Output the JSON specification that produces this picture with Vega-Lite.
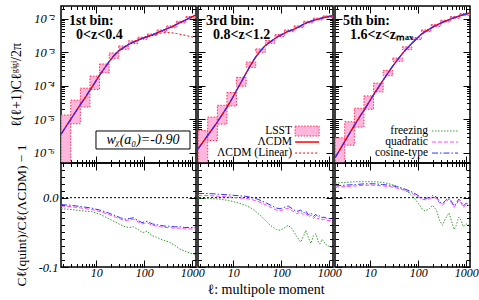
{
"$schema":"https://vega.github.io/schema/vega-lite/v6.json",
"background":"white",
"padding":{"left":8,"top":1,"right":0,"bottom":0},
"bounds":"flush",
"config":{
 "font":"Liberation Serif",
 "view":{"stroke":"black","strokeWidth":1.5},
 "axis":{"domain":false,"grid":false,"tickColor":"black","tickWidth":1,"labelFontSize":12.5,"labelFontStyle":"italic","labelColor":"black","titleFontSize":13,"titleFontWeight":"normal","titleColor":"black","labelFlush":false,"labelOverlap":false,"labelPadding":10,"titlePadding":10},
 "text":{"color":"black"}
},
"datasets":{
 "cl":[
  {"p":1,"l":1.86,"c":3.63e-6},{"p":1,"l":2.34,"c":6.03e-6},{"p":1,"l":2.95,"c":1.0e-5},{"p":1,"l":3.72,"c":1.66e-5},{"p":1,"l":4.68,"c":2.75e-5},{"p":1,"l":5.89,"c":4.47e-5},{"p":1,"l":7.41,"c":7.41e-5},{"p":1,"l":9.33,"c":1.23e-4},{"p":1,"l":11.7,"c":2.04e-4},{"p":1,"l":14.8,"c":3.31e-4},{"p":1,"l":18.6,"c":5.25e-4},{"p":1,"l":23.4,"c":7.94e-4},{"p":1,"l":29.5,"c":1.10e-3},{"p":1,"l":37.2,"c":1.38e-3},{"p":1,"l":46.8,"c":1.70e-3},{"p":1,"l":58.9,"c":2.00e-3},{"p":1,"l":74.1,"c":2.29e-3},{"p":1,"l":93.3,"c":2.63e-3},{"p":1,"l":117,"c":2.95e-3},{"p":1,"l":148,"c":3.31e-3},{"p":1,"l":186,"c":3.80e-3},{"p":1,"l":234,"c":4.37e-3},{"p":1,"l":295,"c":5.01e-3},{"p":1,"l":372,"c":5.75e-3},{"p":1,"l":468,"c":6.76e-3},{"p":1,"l":589,"c":7.94e-3},{"p":1,"l":741,"c":9.33e-3},{"p":1,"l":933,"c":1.10e-2},{"p":1,"l":1175,"c":1.29e-2},
  {"p":2,"l":1.86,"c":1.32e-6},{"p":2,"l":2.34,"c":2.09e-6},{"p":2,"l":2.95,"c":3.31e-6},{"p":2,"l":3.72,"c":5.25e-6},{"p":2,"l":4.68,"c":8.32e-6},{"p":2,"l":5.89,"c":1.38e-5},{"p":2,"l":7.41,"c":2.29e-5},{"p":2,"l":9.33,"c":3.98e-5},{"p":2,"l":11.7,"c":7.24e-5},{"p":2,"l":14.8,"c":1.32e-4},{"p":2,"l":18.6,"c":2.40e-4},{"p":2,"l":23.4,"c":4.27e-4},{"p":2,"l":29.5,"c":7.24e-4},{"p":2,"l":37.2,"c":1.12e-3},{"p":2,"l":46.8,"c":1.58e-3},{"p":2,"l":58.9,"c":2.04e-3},{"p":2,"l":74.1,"c":2.57e-3},{"p":2,"l":93.3,"c":3.16e-3},{"p":2,"l":117,"c":3.72e-3},{"p":2,"l":148,"c":4.37e-3},{"p":2,"l":186,"c":4.90e-3},{"p":2,"l":234,"c":5.75e-3},{"p":2,"l":295,"c":6.92e-3},{"p":2,"l":372,"c":7.94e-3},{"p":2,"l":468,"c":8.91e-3},{"p":2,"l":589,"c":9.77e-3},{"p":2,"l":741,"c":1.07e-2},{"p":2,"l":933,"c":1.15e-2},{"p":2,"l":1175,"c":1.23e-2},
  {"p":3,"l":1.86,"c":7.24e-7},{"p":3,"l":2.34,"c":1.26e-6},{"p":3,"l":2.95,"c":2.19e-6},{"p":3,"l":3.72,"c":3.80e-6},{"p":3,"l":4.68,"c":6.61e-6},{"p":3,"l":5.89,"c":1.12e-5},{"p":3,"l":7.41,"c":1.86e-5},{"p":3,"l":9.33,"c":3.16e-5},{"p":3,"l":11.7,"c":5.37e-5},{"p":3,"l":14.8,"c":8.91e-5},{"p":3,"l":18.6,"c":1.48e-4},{"p":3,"l":23.4,"c":2.40e-4},{"p":3,"l":29.5,"c":3.89e-4},{"p":3,"l":37.2,"c":6.03e-4},{"p":3,"l":46.8,"c":9.12e-4},{"p":3,"l":58.9,"c":1.32e-3},{"p":3,"l":74.1,"c":1.86e-3},{"p":3,"l":93.3,"c":2.57e-3},{"p":3,"l":117,"c":3.47e-3},{"p":3,"l":148,"c":4.37e-3},{"p":3,"l":186,"c":5.25e-3},{"p":3,"l":234,"c":6.31e-3},{"p":3,"l":295,"c":7.41e-3},{"p":3,"l":372,"c":8.51e-3},{"p":3,"l":468,"c":9.77e-3},{"p":3,"l":589,"c":1.10e-2},{"p":3,"l":741,"c":1.23e-2},{"p":3,"l":933,"c":1.35e-2},{"p":3,"l":1175,"c":1.48e-2}
 ],
 "lin":[
  {"l":58.9,"c":2.00e-3},{"l":74.1,"c":2.29e-3},{"l":93.3,"c":2.63e-3},{"l":117,"c":2.95e-3},{"l":148,"c":3.24e-3},{"l":186,"c":3.55e-3},{"l":234,"c":3.80e-3},{"l":295,"c":3.89e-3},{"l":372,"c":3.80e-3},{"l":468,"c":3.63e-3},{"l":589,"c":3.39e-3},{"l":741,"c":3.16e-3},{"l":933,"c":2.95e-3},{"l":1175,"c":2.69e-3}
 ],
 "box":[
  {"p":1,"l1":1.86,"l2":2.95,"lo":1e-7,"hi":1.35e-5},{"p":1,"l1":2.95,"l2":4.68,"lo":7.41e-6,"hi":3.72e-5},{"p":1,"l1":4.68,"l2":7.41,"lo":2.34e-5,"hi":8.51e-5},{"p":1,"l1":7.41,"l2":11.7,"lo":7.76e-5,"hi":1.95e-4},{"p":1,"l1":11.7,"l2":18.6,"lo":2.45e-4,"hi":4.47e-4},{"p":1,"l1":18.6,"l2":29.5,"lo":6.61e-4,"hi":9.55e-4},{"p":1,"l1":29.5,"l2":46.8,"lo":1.23e-3,"hi":1.55e-3},{"p":1,"l1":46.8,"l2":74.1,"lo":1.82e-3,"hi":2.19e-3},{"p":1,"l1":74.1,"l2":117,"lo":2.45e-3,"hi":2.82e-3},{"p":1,"l1":117,"l2":186,"lo":3.13e-3,"hi":3.51e-3},{"p":1,"l1":186,"l2":295,"lo":4.12e-3,"hi":4.62e-3},{"p":1,"l1":295,"l2":468,"lo":5.43e-3,"hi":6.10e-3},{"p":1,"l1":468,"l2":741,"lo":7.50e-3,"hi":8.41e-3},{"p":1,"l1":741,"l2":1175,"lo":1.04e-2,"hi":1.16e-2},
  {"p":2,"l1":1.86,"l2":2.95,"lo":1e-7,"hi":4.68e-6},{"p":2,"l1":2.95,"l2":4.68,"lo":2.34e-6,"hi":1.17e-5},{"p":2,"l1":4.68,"l2":7.41,"lo":7.24e-6,"hi":2.63e-5},{"p":2,"l1":7.41,"l2":11.7,"lo":2.51e-5,"hi":6.31e-5},{"p":2,"l1":11.7,"l2":18.6,"lo":9.77e-5,"hi":1.78e-4},{"p":2,"l1":18.6,"l2":29.5,"lo":3.55e-4,"hi":5.13e-4},{"p":2,"l1":29.5,"l2":46.8,"lo":1.00e-3,"hi":1.26e-3},{"p":2,"l1":46.8,"l2":74.1,"lo":1.86e-3,"hi":2.24e-3},{"p":2,"l1":74.1,"l2":117,"lo":2.95e-3,"hi":3.39e-3},{"p":2,"l1":117,"l2":186,"lo":4.12e-3,"hi":4.62e-3},{"p":2,"l1":186,"l2":295,"lo":5.43e-3,"hi":6.10e-3},{"p":2,"l1":295,"l2":468,"lo":7.50e-3,"hi":8.41e-3},{"p":2,"l1":468,"l2":741,"lo":9.23e-3,"hi":1.04e-2},{"p":2,"l1":741,"l2":1175,"lo":1.08e-2,"hi":1.22e-2},
  {"p":3,"l1":1.86,"l2":2.95,"lo":1e-7,"hi":2.82e-6},{"p":3,"l1":2.95,"l2":4.68,"lo":1.70e-6,"hi":8.51e-6},{"p":3,"l1":4.68,"l2":7.41,"lo":5.89e-6,"hi":2.14e-5},{"p":3,"l1":7.41,"l2":11.7,"lo":2.00e-5,"hi":5.01e-5},{"p":3,"l1":11.7,"l2":18.6,"lo":6.61e-5,"hi":1.20e-4},{"p":3,"l1":18.6,"l2":29.5,"lo":2.00e-4,"hi":2.88e-4},{"p":3,"l1":29.5,"l2":46.8,"lo":5.37e-4,"hi":6.76e-4},{"p":3,"l1":46.8,"l2":74.1,"lo":1.20e-3,"hi":1.45e-3},{"p":3,"l1":74.1,"l2":117,"lo":2.40e-3,"hi":2.75e-3},{"p":3,"l1":117,"l2":186,"lo":4.12e-3,"hi":4.62e-3},{"p":3,"l1":186,"l2":295,"lo":5.96e-3,"hi":6.68e-3},{"p":3,"l1":295,"l2":468,"lo":8.04e-3,"hi":9.02e-3},{"p":3,"l1":468,"l2":741,"lo":1.04e-2,"hi":1.16e-2},{"p":3,"l1":741,"l2":1175,"lo":1.27e-2,"hi":1.43e-2}
 ],
 "ratio":[
  {"p":1,"m":"c","l":1.86,"r":-0.010},{"p":1,"m":"c","l":3,"r":-0.011},{"p":1,"m":"c","l":5,"r":-0.013},{"p":1,"m":"c","l":8,"r":-0.015},{"p":1,"m":"c","l":12,"r":-0.018},{"p":1,"m":"c","l":18,"r":-0.022},{"p":1,"m":"c","l":25,"r":-0.026},{"p":1,"m":"c","l":32,"r":-0.029},{"p":1,"m":"c","l":40,"r":-0.031},{"p":1,"m":"c","l":50,"r":-0.030},{"p":1,"m":"c","l":60,"r":-0.029},{"p":1,"m":"c","l":75,"r":-0.033},{"p":1,"m":"c","l":90,"r":-0.036},{"p":1,"m":"c","l":100,"r":-0.035},{"p":1,"m":"c","l":115,"r":-0.034},{"p":1,"m":"c","l":130,"r":-0.036},{"p":1,"m":"c","l":150,"r":-0.038},{"p":1,"m":"c","l":180,"r":-0.039},{"p":1,"m":"c","l":220,"r":-0.040},{"p":1,"m":"c","l":270,"r":-0.041},{"p":1,"m":"c","l":330,"r":-0.041},{"p":1,"m":"c","l":420,"r":-0.042},{"p":1,"m":"c","l":550,"r":-0.042},{"p":1,"m":"c","l":700,"r":-0.043},{"p":1,"m":"c","l":900,"r":-0.043},{"p":1,"m":"c","l":1175,"r":-0.043},
  {"p":1,"m":"q","l":1.86,"r":-0.012},{"p":1,"m":"q","l":3,"r":-0.013},{"p":1,"m":"q","l":5,"r":-0.015},{"p":1,"m":"q","l":8,"r":-0.017},{"p":1,"m":"q","l":12,"r":-0.020},{"p":1,"m":"q","l":18,"r":-0.024},{"p":1,"m":"q","l":25,"r":-0.028},{"p":1,"m":"q","l":32,"r":-0.031},{"p":1,"m":"q","l":40,"r":-0.033},{"p":1,"m":"q","l":50,"r":-0.032},{"p":1,"m":"q","l":60,"r":-0.031},{"p":1,"m":"q","l":75,"r":-0.035},{"p":1,"m":"q","l":90,"r":-0.038},{"p":1,"m":"q","l":100,"r":-0.037},{"p":1,"m":"q","l":115,"r":-0.036},{"p":1,"m":"q","l":130,"r":-0.038},{"p":1,"m":"q","l":150,"r":-0.040},{"p":1,"m":"q","l":180,"r":-0.041},{"p":1,"m":"q","l":220,"r":-0.042},{"p":1,"m":"q","l":270,"r":-0.043},{"p":1,"m":"q","l":330,"r":-0.043},{"p":1,"m":"q","l":420,"r":-0.044},{"p":1,"m":"q","l":550,"r":-0.044},{"p":1,"m":"q","l":700,"r":-0.045},{"p":1,"m":"q","l":900,"r":-0.045},{"p":1,"m":"q","l":1175,"r":-0.045},
  {"p":1,"m":"f","l":1.86,"r":-0.016},{"p":1,"m":"f","l":3,"r":-0.017},{"p":1,"m":"f","l":5,"r":-0.019},{"p":1,"m":"f","l":8,"r":-0.020},{"p":1,"m":"f","l":12,"r":-0.024},{"p":1,"m":"f","l":18,"r":-0.030},{"p":1,"m":"f","l":25,"r":-0.035},{"p":1,"m":"f","l":32,"r":-0.039},{"p":1,"m":"f","l":40,"r":-0.042},{"p":1,"m":"f","l":50,"r":-0.043},{"p":1,"m":"f","l":60,"r":-0.042},{"p":1,"m":"f","l":75,"r":-0.046},{"p":1,"m":"f","l":90,"r":-0.050},{"p":1,"m":"f","l":100,"r":-0.050},{"p":1,"m":"f","l":115,"r":-0.048},{"p":1,"m":"f","l":130,"r":-0.052},{"p":1,"m":"f","l":150,"r":-0.055},{"p":1,"m":"f","l":180,"r":-0.057},{"p":1,"m":"f","l":220,"r":-0.060},{"p":1,"m":"f","l":270,"r":-0.062},{"p":1,"m":"f","l":330,"r":-0.064},{"p":1,"m":"f","l":420,"r":-0.068},{"p":1,"m":"f","l":550,"r":-0.074},{"p":1,"m":"f","l":700,"r":-0.077},{"p":1,"m":"f","l":900,"r":-0.080},{"p":1,"m":"f","l":1175,"r":-0.082},
  {"p":2,"m":"c","l":1.86,"r":0.006},{"p":2,"m":"c","l":3,"r":0.006},{"p":2,"m":"c","l":5,"r":0.005},{"p":2,"m":"c","l":8,"r":0.004},{"p":2,"m":"c","l":12,"r":0.003},{"p":2,"m":"c","l":18,"r":0.002},{"p":2,"m":"c","l":25,"r":0.000},{"p":2,"m":"c","l":32,"r":-0.002},{"p":2,"m":"c","l":40,"r":-0.005},{"p":2,"m":"c","l":50,"r":-0.008},{"p":2,"m":"c","l":65,"r":-0.012},{"p":2,"m":"c","l":80,"r":-0.015},{"p":2,"m":"c","l":95,"r":-0.016},{"p":2,"m":"c","l":115,"r":-0.014},{"p":2,"m":"c","l":140,"r":-0.012},{"p":2,"m":"c","l":170,"r":-0.016},{"p":2,"m":"c","l":210,"r":-0.020},{"p":2,"m":"c","l":255,"r":-0.018},{"p":2,"m":"c","l":295,"r":-0.022},{"p":2,"m":"c","l":325,"r":-0.019},{"p":2,"m":"c","l":370,"r":-0.025},{"p":2,"m":"c","l":415,"r":-0.022},{"p":2,"m":"c","l":470,"r":-0.027},{"p":2,"m":"c","l":530,"r":-0.024},{"p":2,"m":"c","l":580,"r":-0.028},{"p":2,"m":"c","l":640,"r":-0.026},{"p":2,"m":"c","l":710,"r":-0.029},{"p":2,"m":"c","l":780,"r":-0.028},{"p":2,"m":"c","l":900,"r":-0.030},{"p":2,"m":"c","l":1175,"r":-0.030},
  {"p":2,"m":"q","l":1.86,"r":0.003},{"p":2,"m":"q","l":3,"r":0.003},{"p":2,"m":"q","l":5,"r":0.002},{"p":2,"m":"q","l":8,"r":0.001},{"p":2,"m":"q","l":12,"r":0.000},{"p":2,"m":"q","l":18,"r":-0.001},{"p":2,"m":"q","l":25,"r":-0.003},{"p":2,"m":"q","l":32,"r":-0.005},{"p":2,"m":"q","l":40,"r":-0.008},{"p":2,"m":"q","l":50,"r":-0.011},{"p":2,"m":"q","l":65,"r":-0.015},{"p":2,"m":"q","l":80,"r":-0.018},{"p":2,"m":"q","l":95,"r":-0.019},{"p":2,"m":"q","l":115,"r":-0.017},{"p":2,"m":"q","l":140,"r":-0.015},{"p":2,"m":"q","l":170,"r":-0.019},{"p":2,"m":"q","l":210,"r":-0.023},{"p":2,"m":"q","l":255,"r":-0.021},{"p":2,"m":"q","l":295,"r":-0.025},{"p":2,"m":"q","l":325,"r":-0.022},{"p":2,"m":"q","l":370,"r":-0.028},{"p":2,"m":"q","l":415,"r":-0.025},{"p":2,"m":"q","l":470,"r":-0.030},{"p":2,"m":"q","l":530,"r":-0.027},{"p":2,"m":"q","l":580,"r":-0.031},{"p":2,"m":"q","l":640,"r":-0.029},{"p":2,"m":"q","l":710,"r":-0.032},{"p":2,"m":"q","l":780,"r":-0.031},{"p":2,"m":"q","l":900,"r":-0.033},{"p":2,"m":"q","l":1175,"r":-0.033},
  {"p":2,"m":"f","l":1.86,"r":-0.001},{"p":2,"m":"f","l":3,"r":-0.001},{"p":2,"m":"f","l":5,"r":-0.002},{"p":2,"m":"f","l":8,"r":-0.004},{"p":2,"m":"f","l":12,"r":-0.007},{"p":2,"m":"f","l":18,"r":-0.011},{"p":2,"m":"f","l":25,"r":-0.016},{"p":2,"m":"f","l":32,"r":-0.022},{"p":2,"m":"f","l":40,"r":-0.028},{"p":2,"m":"f","l":50,"r":-0.035},{"p":2,"m":"f","l":65,"r":-0.042},{"p":2,"m":"f","l":80,"r":-0.046},{"p":2,"m":"f","l":95,"r":-0.047},{"p":2,"m":"f","l":115,"r":-0.044},{"p":2,"m":"f","l":140,"r":-0.040},{"p":2,"m":"f","l":170,"r":-0.045},{"p":2,"m":"f","l":210,"r":-0.056},{"p":2,"m":"f","l":255,"r":-0.064},{"p":2,"m":"f","l":295,"r":-0.055},{"p":2,"m":"f","l":325,"r":-0.047},{"p":2,"m":"f","l":370,"r":-0.058},{"p":2,"m":"f","l":415,"r":-0.066},{"p":2,"m":"f","l":470,"r":-0.055},{"p":2,"m":"f","l":530,"r":-0.052},{"p":2,"m":"f","l":580,"r":-0.062},{"p":2,"m":"f","l":640,"r":-0.067},{"p":2,"m":"f","l":710,"r":-0.060},{"p":2,"m":"f","l":780,"r":-0.064},{"p":2,"m":"f","l":900,"r":-0.069},{"p":2,"m":"f","l":1175,"r":-0.072},
  {"p":3,"m":"c","l":1.86,"r":0.017},{"p":3,"m":"c","l":3,"r":0.018},{"p":3,"m":"c","l":5,"r":0.019},{"p":3,"m":"c","l":8,"r":0.020},{"p":3,"m":"c","l":12,"r":0.020},{"p":3,"m":"c","l":18,"r":0.019},{"p":3,"m":"c","l":25,"r":0.018},{"p":3,"m":"c","l":35,"r":0.016},{"p":3,"m":"c","l":50,"r":0.013},{"p":3,"m":"c","l":65,"r":0.010},{"p":3,"m":"c","l":80,"r":0.007},{"p":3,"m":"c","l":100,"r":0.003},{"p":3,"m":"c","l":120,"r":0.000},{"p":3,"m":"c","l":140,"r":-0.001},{"p":3,"m":"c","l":170,"r":0.000},{"p":3,"m":"c","l":200,"r":0.003},{"p":3,"m":"c","l":240,"r":0.001},{"p":3,"m":"c","l":280,"r":-0.006},{"p":3,"m":"c","l":320,"r":-0.009},{"p":3,"m":"c","l":370,"r":-0.004},{"p":3,"m":"c","l":440,"r":0.000},{"p":3,"m":"c","l":500,"r":-0.006},{"p":3,"m":"c","l":560,"r":-0.012},{"p":3,"m":"c","l":620,"r":-0.008},{"p":3,"m":"c","l":700,"r":-0.002},{"p":3,"m":"c","l":790,"r":-0.006},{"p":3,"m":"c","l":870,"r":-0.012},{"p":3,"m":"c","l":1000,"r":-0.008},{"p":3,"m":"c","l":1175,"r":-0.010},
  {"p":3,"m":"q","l":1.86,"r":0.015},{"p":3,"m":"q","l":3,"r":0.016},{"p":3,"m":"q","l":5,"r":0.017},{"p":3,"m":"q","l":8,"r":0.018},{"p":3,"m":"q","l":12,"r":0.018},{"p":3,"m":"q","l":18,"r":0.017},{"p":3,"m":"q","l":25,"r":0.016},{"p":3,"m":"q","l":35,"r":0.014},{"p":3,"m":"q","l":50,"r":0.011},{"p":3,"m":"q","l":65,"r":0.008},{"p":3,"m":"q","l":80,"r":0.005},{"p":3,"m":"q","l":100,"r":0.001},{"p":3,"m":"q","l":120,"r":-0.002},{"p":3,"m":"q","l":140,"r":-0.003},{"p":3,"m":"q","l":170,"r":-0.002},{"p":3,"m":"q","l":200,"r":0.001},{"p":3,"m":"q","l":240,"r":-0.001},{"p":3,"m":"q","l":280,"r":-0.008},{"p":3,"m":"q","l":320,"r":-0.011},{"p":3,"m":"q","l":370,"r":-0.006},{"p":3,"m":"q","l":440,"r":-0.002},{"p":3,"m":"q","l":500,"r":-0.008},{"p":3,"m":"q","l":560,"r":-0.014},{"p":3,"m":"q","l":620,"r":-0.010},{"p":3,"m":"q","l":700,"r":-0.004},{"p":3,"m":"q","l":790,"r":-0.008},{"p":3,"m":"q","l":870,"r":-0.014},{"p":3,"m":"q","l":1000,"r":-0.010},{"p":3,"m":"q","l":1175,"r":-0.012},
  {"p":3,"m":"f","l":1.86,"r":0.021},{"p":3,"m":"f","l":3,"r":0.022},{"p":3,"m":"f","l":5,"r":0.023},{"p":3,"m":"f","l":8,"r":0.023},{"p":3,"m":"f","l":12,"r":0.023},{"p":3,"m":"f","l":18,"r":0.022},{"p":3,"m":"f","l":25,"r":0.020},{"p":3,"m":"f","l":35,"r":0.017},{"p":3,"m":"f","l":50,"r":0.012},{"p":3,"m":"f","l":65,"r":0.007},{"p":3,"m":"f","l":80,"r":0.001},{"p":3,"m":"f","l":100,"r":-0.008},{"p":3,"m":"f","l":120,"r":-0.016},{"p":3,"m":"f","l":140,"r":-0.019},{"p":3,"m":"f","l":170,"r":-0.016},{"p":3,"m":"f","l":200,"r":-0.011},{"p":3,"m":"f","l":240,"r":-0.018},{"p":3,"m":"f","l":280,"r":-0.033},{"p":3,"m":"f","l":320,"r":-0.040},{"p":3,"m":"f","l":370,"r":-0.030},{"p":3,"m":"f","l":440,"r":-0.022},{"p":3,"m":"f","l":500,"r":-0.035},{"p":3,"m":"f","l":560,"r":-0.046},{"p":3,"m":"f","l":620,"r":-0.040},{"p":3,"m":"f","l":700,"r":-0.028},{"p":3,"m":"f","l":790,"r":-0.033},{"p":3,"m":"f","l":870,"r":-0.042},{"p":3,"m":"f","l":1000,"r":-0.038},{"p":3,"m":"f","l":1175,"r":-0.040}
 ]
},
"columns":3,
"spacing":{"row":0,"column":2},
"concat":[
 {"width":135,"height":157,
  "layer":[
   {"data":{"name":"box"},"transform":[{"filter":"datum.p==1"}],
    "mark":{"type":"rect","fill":"#ffb6dc","stroke":"#ff2d5a","strokeWidth":1,"strokeDash":[1.5,1.5],"clip":true},
    "encoding":{
     "x":{"field":"l1","type":"quantitative","scale":{"type":"log","domain":[1.85,1200],"nice":false},"axis":{"orient":"bottom","title":null,"labels":false,"values":[2,3,4,5,6,7,8,9,10,20,30,40,50,60,70,80,90,100,200,300,400,500,600,700,800,900,1000],"tickSize":{"condition":{"test":"datum.value==10||datum.value==100||datum.value==1000","value":-7},"value":-3.5}}},
     "x2":{"field":"l2"},
     "y":{"field":"lo","type":"quantitative","scale":{"type":"log","domain":[5e-7,0.024],"nice":false},"axis":{"orient":"left","title":"ℓ(ℓ+1)Cℓᵍⁱᵍⁱ/2π","titleFontSize":14,"labelPadding":14,"values":[1e-6,2e-6,3e-6,4e-6,5e-6,6e-6,7e-6,8e-6,9e-6,1e-5,2e-5,3e-5,4e-5,5e-5,6e-5,7e-5,8e-5,9e-5,1e-4,2e-4,3e-4,4e-4,5e-4,6e-4,7e-4,8e-4,9e-4,1e-3,2e-3,3e-3,4e-3,5e-3,6e-3,7e-3,8e-3,9e-3,1e-2,2e-2],"labelExpr":"datum.value==0.000001?'10⁻⁶':datum.value==0.00001?'10⁻⁵':datum.value==0.0001?'10⁻⁴':datum.value==0.001?'10⁻³':datum.value==0.01?'10⁻²':''","tickSize":{"condition":{"test":"datum.value==0.000001||datum.value==0.00001||datum.value==0.0001||datum.value==0.001||datum.value==0.01","value":-7},"value":-3.5}}},
     "y2":{"field":"hi"}}},
   {"data":{"name":"cl"},"transform":[{"filter":"datum.p==1"}],"mark":{"type":"line","color":"#ff0000","strokeWidth":1.4,"clip":true},"encoding":{"x":{"field":"l","type":"quantitative","axis":null},"y":{"field":"c","type":"quantitative","axis":null}}},
   {"data":{"name":"lin"},"mark":{"type":"line","color":"#ff0000","strokeWidth":1,"strokeDash":[2,2],"clip":true},"encoding":{"x":{"field":"l","type":"quantitative","axis":null},"y":{"field":"c","type":"quantitative","axis":null}}},
   {"data":{"name":"cl"},"transform":[{"filter":"datum.p==1"}],"mark":{"type":"line","color":"#2b2bff","strokeWidth":1.2,"strokeDash":[7,1.5,1.5,1.5],"clip":true},"encoding":{"x":{"field":"l","type":"quantitative","axis":null},"y":{"field":"c","type":"quantitative","axis":null}}},
   {"data":{"values":[{}]},"mark":{"type":"text","text":"1st bin:","fontSize":14,"fontWeight":"bold","align":"left","baseline":"middle"},"encoding":{"x":{"datum":2.71,"type":"quantitative","axis":null},"y":{"datum":0.0086,"type":"quantitative","axis":null}}},
   {"data":{"values":[{}]},"mark":{"type":"text","text":"0<z<0.4","fontSize":14,"fontWeight":"bold","align":"left","baseline":"middle"},"encoding":{"x":{"datum":3.8,"type":"quantitative","axis":null},"y":{"datum":0.00327,"type":"quantitative","axis":null}}},
   {"data":{"values":[{}]},"mark":{"type":"rect","fill":"white","stroke":"black","strokeWidth":1},"encoding":{"x":{"datum":9.9,"type":"quantitative","axis":null},"x2":{"datum":900},"y":{"datum":0.0000045,"type":"quantitative","axis":null},"y2":{"datum":0.00000131}}},
   {"data":{"values":[{}]},"mark":{"type":"text","text":"wᵪ(a₀)=-0.90","fontSize":14,"fontStyle":"italic","align":"center","baseline":"middle"},"encoding":{"x":{"datum":94.5,"type":"quantitative","axis":null},"y":{"datum":0.00000243,"type":"quantitative","axis":null}}},
   {"data":{"values":[{}]},"mark":{"type":"point","opacity":0},"encoding":{
     "x":{"datum":10,"type":"quantitative","axis":{"orient":"top","title":null,"labels":false,"values":[2,3,4,5,6,7,8,9,10,20,30,40,50,60,70,80,90,100,200,300,400,500,600,700,800,900,1000],"tickSize":{"condition":{"test":"datum.value==10||datum.value==100||datum.value==1000","value":-7},"value":-3.5}}},
     "y":{"datum":0.001,"type":"quantitative","axis":{"orient":"right","title":null,"labels":false,"values":[1e-6,2e-6,3e-6,4e-6,5e-6,6e-6,7e-6,8e-6,9e-6,1e-5,2e-5,3e-5,4e-5,5e-5,6e-5,7e-5,8e-5,9e-5,1e-4,2e-4,3e-4,4e-4,5e-4,6e-4,7e-4,8e-4,9e-4,1e-3,2e-3,3e-3,4e-3,5e-3,6e-3,7e-3,8e-3,9e-3,1e-2,2e-2],"tickSize":{"condition":{"test":"datum.value==0.000001||datum.value==0.00001||datum.value==0.0001||datum.value==0.001||datum.value==0.01","value":-7},"value":-3.5}}}}}
  ],
  "resolve":{"axis":{"x":"independent","y":"independent"}}},
 {"width":135,"height":157,
  "layer":[
   {"data":{"name":"box"},"transform":[{"filter":"datum.p==2"}],
    "mark":{"type":"rect","fill":"#ffb6dc","stroke":"#ff2d5a","strokeWidth":1,"strokeDash":[1.5,1.5],"clip":true},
    "encoding":{
     "x":{"field":"l1","type":"quantitative","scale":{"type":"log","domain":[1.85,1200],"nice":false},"axis":{"orient":"bottom","title":null,"labels":false,"values":[2,3,4,5,6,7,8,9,10,20,30,40,50,60,70,80,90,100,200,300,400,500,600,700,800,900,1000],"tickSize":{"condition":{"test":"datum.value==10||datum.value==100||datum.value==1000","value":-7},"value":-3.5}}},
     "x2":{"field":"l2"},
     "y":{"field":"lo","type":"quantitative","scale":{"type":"log","domain":[5e-7,0.024],"nice":false},"axis":{"orient":"left","title":null,"labels":false,"values":[1e-6,2e-6,3e-6,4e-6,5e-6,6e-6,7e-6,8e-6,9e-6,1e-5,2e-5,3e-5,4e-5,5e-5,6e-5,7e-5,8e-5,9e-5,1e-4,2e-4,3e-4,4e-4,5e-4,6e-4,7e-4,8e-4,9e-4,1e-3,2e-3,3e-3,4e-3,5e-3,6e-3,7e-3,8e-3,9e-3,1e-2,2e-2],"tickSize":{"condition":{"test":"datum.value==0.000001||datum.value==0.00001||datum.value==0.0001||datum.value==0.001||datum.value==0.01","value":-7},"value":-3.5}}},
     "y2":{"field":"hi"}}},
   {"data":{"name":"cl"},"transform":[{"filter":"datum.p==2"}],"mark":{"type":"line","color":"#ff0000","strokeWidth":1.4,"clip":true},"encoding":{"x":{"field":"l","type":"quantitative","axis":null},"y":{"field":"c","type":"quantitative","axis":null}}},
   {"data":{"name":"cl"},"transform":[{"filter":"datum.p==2"}],"mark":{"type":"line","color":"#2b2bff","strokeWidth":1.2,"strokeDash":[7,1.5,1.5,1.5],"clip":true},"encoding":{"x":{"field":"l","type":"quantitative","axis":null},"y":{"field":"c","type":"quantitative","axis":null}}},
   {"data":{"values":[{}]},"mark":{"type":"text","text":"3rd bin:","fontSize":14,"fontWeight":"bold","align":"left","baseline":"middle"},"encoding":{"x":{"datum":2.71,"type":"quantitative","axis":null},"y":{"datum":0.0086,"type":"quantitative","axis":null}}},
   {"data":{"values":[{}]},"mark":{"type":"text","text":"0.8<z<1.2","fontSize":14,"fontWeight":"bold","align":"left","baseline":"middle"},"encoding":{"x":{"datum":3.8,"type":"quantitative","axis":null},"y":{"datum":0.00327,"type":"quantitative","axis":null}}},
   {"data":{"values":[{}]},"mark":{"type":"rect","fill":"#ffb6dc","stroke":"#ff2d5a","strokeWidth":1,"strokeDash":[1.5,1.5]},"encoding":{"x":{"datum":195,"type":"quantitative","axis":null},"x2":{"datum":617},"y":{"datum":0.0000063,"type":"quantitative","axis":null},"y2":{"datum":0.00000319}}},
   {"data":{"values":[{}]},"mark":{"type":"rule","color":"#ff0000","strokeWidth":1.5},"encoding":{"x":{"datum":195,"type":"quantitative","axis":null},"x2":{"datum":617},"y":{"datum":0.00000211,"type":"quantitative","axis":null}}},
   {"data":{"values":[{}]},"mark":{"type":"rule","color":"#ff0000","strokeWidth":1,"strokeDash":[2,2]},"encoding":{"x":{"datum":195,"type":"quantitative","axis":null},"x2":{"datum":617},"y":{"datum":0.00000099,"type":"quantitative","axis":null}}},
   {"data":{"values":[{}]},"mark":{"type":"text","text":"LSST","fontSize":11.5,"align":"right","baseline":"middle"},"encoding":{"x":{"datum":168,"type":"quantitative","axis":null},"y":{"datum":0.0000045,"type":"quantitative","axis":null}}},
   {"data":{"values":[{}]},"mark":{"type":"text","text":"ΛCDM","fontSize":11.5,"align":"right","baseline":"middle"},"encoding":{"x":{"datum":168,"type":"quantitative","axis":null},"y":{"datum":0.00000211,"type":"quantitative","axis":null}}},
   {"data":{"values":[{}]},"mark":{"type":"text","text":"ΛCDM (Linear)","fontSize":11.5,"align":"right","baseline":"middle"},"encoding":{"x":{"datum":168,"type":"quantitative","axis":null},"y":{"datum":0.00000099,"type":"quantitative","axis":null}}},
   {"data":{"values":[{}]},"mark":{"type":"point","opacity":0},"encoding":{
     "x":{"datum":10,"type":"quantitative","axis":{"orient":"top","title":null,"labels":false,"values":[2,3,4,5,6,7,8,9,10,20,30,40,50,60,70,80,90,100,200,300,400,500,600,700,800,900,1000],"tickSize":{"condition":{"test":"datum.value==10||datum.value==100||datum.value==1000","value":-7},"value":-3.5}}},
     "y":{"datum":0.001,"type":"quantitative","axis":{"orient":"right","title":null,"labels":false,"values":[1e-6,2e-6,3e-6,4e-6,5e-6,6e-6,7e-6,8e-6,9e-6,1e-5,2e-5,3e-5,4e-5,5e-5,6e-5,7e-5,8e-5,9e-5,1e-4,2e-4,3e-4,4e-4,5e-4,6e-4,7e-4,8e-4,9e-4,1e-3,2e-3,3e-3,4e-3,5e-3,6e-3,7e-3,8e-3,9e-3,1e-2,2e-2],"tickSize":{"condition":{"test":"datum.value==0.000001||datum.value==0.00001||datum.value==0.0001||datum.value==0.001||datum.value==0.01","value":-7},"value":-3.5}}}}}
  ],
  "resolve":{"axis":{"x":"independent","y":"independent"}}},
 {"width":135,"height":157,
  "layer":[
   {"data":{"name":"box"},"transform":[{"filter":"datum.p==3"}],
    "mark":{"type":"rect","fill":"#ffb6dc","stroke":"#ff2d5a","strokeWidth":1,"strokeDash":[1.5,1.5],"clip":true},
    "encoding":{
     "x":{"field":"l1","type":"quantitative","scale":{"type":"log","domain":[1.85,1200],"nice":false},"axis":{"orient":"bottom","title":null,"labels":false,"values":[2,3,4,5,6,7,8,9,10,20,30,40,50,60,70,80,90,100,200,300,400,500,600,700,800,900,1000],"tickSize":{"condition":{"test":"datum.value==10||datum.value==100||datum.value==1000","value":-7},"value":-3.5}}},
     "x2":{"field":"l2"},
     "y":{"field":"lo","type":"quantitative","scale":{"type":"log","domain":[5e-7,0.024],"nice":false},"axis":{"orient":"left","title":null,"labels":false,"values":[1e-6,2e-6,3e-6,4e-6,5e-6,6e-6,7e-6,8e-6,9e-6,1e-5,2e-5,3e-5,4e-5,5e-5,6e-5,7e-5,8e-5,9e-5,1e-4,2e-4,3e-4,4e-4,5e-4,6e-4,7e-4,8e-4,9e-4,1e-3,2e-3,3e-3,4e-3,5e-3,6e-3,7e-3,8e-3,9e-3,1e-2,2e-2],"tickSize":{"condition":{"test":"datum.value==0.000001||datum.value==0.00001||datum.value==0.0001||datum.value==0.001||datum.value==0.01","value":-7},"value":-3.5}}},
     "y2":{"field":"hi"}}},
   {"data":{"name":"cl"},"transform":[{"filter":"datum.p==3"}],"mark":{"type":"line","color":"#ff0000","strokeWidth":1.4,"clip":true},"encoding":{"x":{"field":"l","type":"quantitative","axis":null},"y":{"field":"c","type":"quantitative","axis":null}}},
   {"data":{"name":"cl"},"transform":[{"filter":"datum.p==3"}],"mark":{"type":"line","color":"#2b2bff","strokeWidth":1.2,"strokeDash":[7,1.5,1.5,1.5],"clip":true},"encoding":{"x":{"field":"l","type":"quantitative","axis":null},"y":{"field":"c","type":"quantitative","axis":null}}},
   {"data":{"values":[{}]},"mark":{"type":"text","text":"5th bin:","fontSize":14,"fontWeight":"bold","align":"left","baseline":"middle"},"encoding":{"x":{"datum":2.71,"type":"quantitative","axis":null},"y":{"datum":0.0086,"type":"quantitative","axis":null}}},
   {"data":{"values":[{}]},"mark":{"type":"text","text":"1.6<z<zₘₐₓ","fontSize":14,"fontWeight":"bold","align":"left","baseline":"middle"},"encoding":{"x":{"datum":3.8,"type":"quantitative","axis":null},"y":{"datum":0.00327,"type":"quantitative","axis":null}}},
   {"data":{"values":[{}]},"mark":{"type":"rule","color":"#3d9b35","strokeWidth":1,"strokeDash":[1.5,1.5]},"encoding":{"x":{"datum":194,"type":"quantitative","axis":null},"x2":{"datum":675},"y":{"datum":0.0000045,"type":"quantitative","axis":null}}},
   {"data":{"values":[{}]},"mark":{"type":"rule","color":"#ff44ff","strokeWidth":1,"strokeDash":[4,2]},"encoding":{"x":{"datum":194,"type":"quantitative","axis":null},"x2":{"datum":675},"y":{"datum":0.00000211,"type":"quantitative","axis":null}}},
   {"data":{"values":[{}]},"mark":{"type":"rule","color":"#3333ff","strokeWidth":1,"strokeDash":[6,2,1.5,2]},"encoding":{"x":{"datum":194,"type":"quantitative","axis":null},"x2":{"datum":675},"y":{"datum":0.00000099,"type":"quantitative","axis":null}}},
   {"data":{"values":[{}]},"mark":{"type":"text","text":"freezing","fontSize":11.5,"align":"right","baseline":"middle"},"encoding":{"x":{"datum":160,"type":"quantitative","axis":null},"y":{"datum":0.0000045,"type":"quantitative","axis":null}}},
   {"data":{"values":[{}]},"mark":{"type":"text","text":"quadratic","fontSize":11.5,"align":"right","baseline":"middle"},"encoding":{"x":{"datum":160,"type":"quantitative","axis":null},"y":{"datum":0.00000211,"type":"quantitative","axis":null}}},
   {"data":{"values":[{}]},"mark":{"type":"text","text":"cosine-type","fontSize":11.5,"align":"right","baseline":"middle"},"encoding":{"x":{"datum":160,"type":"quantitative","axis":null},"y":{"datum":0.00000099,"type":"quantitative","axis":null}}},
   {"data":{"values":[{}]},"mark":{"type":"point","opacity":0},"encoding":{
     "x":{"datum":10,"type":"quantitative","axis":{"orient":"top","title":null,"labels":false,"values":[2,3,4,5,6,7,8,9,10,20,30,40,50,60,70,80,90,100,200,300,400,500,600,700,800,900,1000],"tickSize":{"condition":{"test":"datum.value==10||datum.value==100||datum.value==1000","value":-7},"value":-3.5}}},
     "y":{"datum":0.001,"type":"quantitative","axis":{"orient":"right","title":null,"labels":false,"values":[1e-6,2e-6,3e-6,4e-6,5e-6,6e-6,7e-6,8e-6,9e-6,1e-5,2e-5,3e-5,4e-5,5e-5,6e-5,7e-5,8e-5,9e-5,1e-4,2e-4,3e-4,4e-4,5e-4,6e-4,7e-4,8e-4,9e-4,1e-3,2e-3,3e-3,4e-3,5e-3,6e-3,7e-3,8e-3,9e-3,1e-2,2e-2],"tickSize":{"condition":{"test":"datum.value==0.000001||datum.value==0.00001||datum.value==0.0001||datum.value==0.001||datum.value==0.01","value":-7},"value":-3.5}}}}}
  ],
  "resolve":{"axis":{"x":"independent","y":"independent"}}},
 {"width":135,"height":104,
  "layer":[
   {"data":{"values":[{}]},"mark":{"type":"rule","color":"black","strokeWidth":1,"strokeDash":[2,2]},"encoding":{"y":{"datum":0,"type":"quantitative","axis":null}}},
   {"data":{"name":"ratio"},"transform":[{"filter":"datum.p==1"}],"mark":{"type":"line","strokeWidth":1,"clip":true},
    "encoding":{
     "x":{"field":"l","type":"quantitative","scale":{"type":"log","domain":[1.85,1200],"nice":false},"axis":{"orient":"bottom","title":null,"labelPadding":7,"labelFontSize":12,"values":[2,3,4,5,6,7,8,9,10,20,30,40,50,60,70,80,90,100,200,300,400,500,600,700,800,900,1000],"labelExpr":"datum.value==10?'10':datum.value==100?'100':datum.value==1000?'1000':''","tickSize":{"condition":{"test":"datum.value==10||datum.value==100||datum.value==1000","value":-7},"value":-3.5}}},
     "y":{"field":"r","type":"quantitative","scale":{"domain":[-0.1,0.05],"nice":false,"zero":false},"axis":{"orient":"left","title":"Cℓ(quint)/Cℓ(ΛCDM) − 1","titleFontSize":13.5,"values":[-0.1,-0.09,-0.08,-0.07,-0.06,-0.05,-0.04,-0.03,-0.02,-0.01,0,0.01,0.02,0.03,0.04,0.05],"labelExpr":"datum.value==0?'0.0':datum.value==-0.1?'-0.1':''","tickSize":{"condition":{"test":"datum.value==0||datum.value==-0.1","value":-7},"value":-3.5}}},
     "color":{"field":"m","type":"nominal","scale":{"domain":["f","q","c"],"range":["#3d9b35","#ff44ff","#3333ff"]},"legend":null},
     "strokeDash":{"field":"m","type":"nominal","scale":{"domain":["f","q","c"],"range":[[1.5,1.5],[4,2],[6,2,1.5,2]]},"legend":null}}},
   {"data":{"values":[{}]},"mark":{"type":"point","opacity":0},"encoding":{
     "x":{"datum":10,"type":"quantitative","axis":{"orient":"top","title":null,"labels":false,"values":[2,3,4,5,6,7,8,9,10,20,30,40,50,60,70,80,90,100,200,300,400,500,600,700,800,900,1000],"tickSize":{"condition":{"test":"datum.value==10||datum.value==100||datum.value==1000","value":-7},"value":-3.5}}},
     "y":{"datum":0,"type":"quantitative","axis":{"orient":"right","title":null,"labels":false,"values":[-0.1,-0.09,-0.08,-0.07,-0.06,-0.05,-0.04,-0.03,-0.02,-0.01,0,0.01,0.02,0.03,0.04,0.05],"tickSize":{"condition":{"test":"datum.value==0||datum.value==-0.1","value":-7},"value":-3.5}}}}}
  ],
  "resolve":{"axis":{"x":"independent","y":"independent"}}},
 {"width":135,"height":104,
  "layer":[
   {"data":{"values":[{}]},"mark":{"type":"rule","color":"black","strokeWidth":1,"strokeDash":[2,2]},"encoding":{"y":{"datum":0,"type":"quantitative","axis":null}}},
   {"data":{"name":"ratio"},"transform":[{"filter":"datum.p==2"}],"mark":{"type":"line","strokeWidth":1,"clip":true},
    "encoding":{
     "x":{"field":"l","type":"quantitative","scale":{"type":"log","domain":[1.85,1200],"nice":false},"axis":{"orient":"bottom","title":"ℓ: multipole moment","titleFontSize":14,"titlePadding":1,"labelPadding":7,"labelFontSize":12,"values":[2,3,4,5,6,7,8,9,10,20,30,40,50,60,70,80,90,100,200,300,400,500,600,700,800,900,1000],"labelExpr":"datum.value==10?'10':datum.value==100?'100':datum.value==1000?'1000':''","tickSize":{"condition":{"test":"datum.value==10||datum.value==100||datum.value==1000","value":-7},"value":-3.5}}},
     "y":{"field":"r","type":"quantitative","scale":{"domain":[-0.1,0.05],"nice":false,"zero":false},"axis":{"orient":"left","title":null,"labels":false,"values":[-0.1,-0.09,-0.08,-0.07,-0.06,-0.05,-0.04,-0.03,-0.02,-0.01,0,0.01,0.02,0.03,0.04,0.05],"tickSize":{"condition":{"test":"datum.value==0||datum.value==-0.1","value":-7},"value":-3.5}}},
     "color":{"field":"m","type":"nominal","scale":{"domain":["f","q","c"],"range":["#3d9b35","#ff44ff","#3333ff"]},"legend":null},
     "strokeDash":{"field":"m","type":"nominal","scale":{"domain":["f","q","c"],"range":[[1.5,1.5],[4,2],[6,2,1.5,2]]},"legend":null}}},
   {"data":{"values":[{}]},"mark":{"type":"point","opacity":0},"encoding":{
     "x":{"datum":10,"type":"quantitative","axis":{"orient":"top","title":null,"labels":false,"values":[2,3,4,5,6,7,8,9,10,20,30,40,50,60,70,80,90,100,200,300,400,500,600,700,800,900,1000],"tickSize":{"condition":{"test":"datum.value==10||datum.value==100||datum.value==1000","value":-7},"value":-3.5}}},
     "y":{"datum":0,"type":"quantitative","axis":{"orient":"right","title":null,"labels":false,"values":[-0.1,-0.09,-0.08,-0.07,-0.06,-0.05,-0.04,-0.03,-0.02,-0.01,0,0.01,0.02,0.03,0.04,0.05],"tickSize":{"condition":{"test":"datum.value==0||datum.value==-0.1","value":-7},"value":-3.5}}}}}
  ],
  "resolve":{"axis":{"x":"independent","y":"independent"}}},
 {"width":135,"height":104,
  "layer":[
   {"data":{"values":[{}]},"mark":{"type":"rule","color":"black","strokeWidth":1,"strokeDash":[2,2]},"encoding":{"y":{"datum":0,"type":"quantitative","axis":null}}},
   {"data":{"name":"ratio"},"transform":[{"filter":"datum.p==3"}],"mark":{"type":"line","strokeWidth":1,"clip":true},
    "encoding":{
     "x":{"field":"l","type":"quantitative","scale":{"type":"log","domain":[1.85,1200],"nice":false},"axis":{"orient":"bottom","title":null,"labelPadding":7,"labelFontSize":12,"values":[2,3,4,5,6,7,8,9,10,20,30,40,50,60,70,80,90,100,200,300,400,500,600,700,800,900,1000],"labelExpr":"datum.value==10?'10':datum.value==100?'100':datum.value==1000?'1000':''","tickSize":{"condition":{"test":"datum.value==10||datum.value==100||datum.value==1000","value":-7},"value":-3.5}}},
     "y":{"field":"r","type":"quantitative","scale":{"domain":[-0.1,0.05],"nice":false,"zero":false},"axis":{"orient":"left","title":null,"labels":false,"values":[-0.1,-0.09,-0.08,-0.07,-0.06,-0.05,-0.04,-0.03,-0.02,-0.01,0,0.01,0.02,0.03,0.04,0.05],"tickSize":{"condition":{"test":"datum.value==0||datum.value==-0.1","value":-7},"value":-3.5}}},
     "color":{"field":"m","type":"nominal","scale":{"domain":["f","q","c"],"range":["#3d9b35","#ff44ff","#3333ff"]},"legend":null},
     "strokeDash":{"field":"m","type":"nominal","scale":{"domain":["f","q","c"],"range":[[1.5,1.5],[4,2],[6,2,1.5,2]]},"legend":null}}},
   {"data":{"values":[{}]},"mark":{"type":"point","opacity":0},"encoding":{
     "x":{"datum":10,"type":"quantitative","axis":{"orient":"top","title":null,"labels":false,"values":[2,3,4,5,6,7,8,9,10,20,30,40,50,60,70,80,90,100,200,300,400,500,600,700,800,900,1000],"tickSize":{"condition":{"test":"datum.value==10||datum.value==100||datum.value==1000","value":-7},"value":-3.5}}},
     "y":{"datum":0,"type":"quantitative","axis":{"orient":"right","title":null,"labels":false,"values":[-0.1,-0.09,-0.08,-0.07,-0.06,-0.05,-0.04,-0.03,-0.02,-0.01,0,0.01,0.02,0.03,0.04,0.05],"tickSize":{"condition":{"test":"datum.value==0||datum.value==-0.1","value":-7},"value":-3.5}}}}}
  ],
  "resolve":{"axis":{"x":"independent","y":"independent"}}}
]
}
